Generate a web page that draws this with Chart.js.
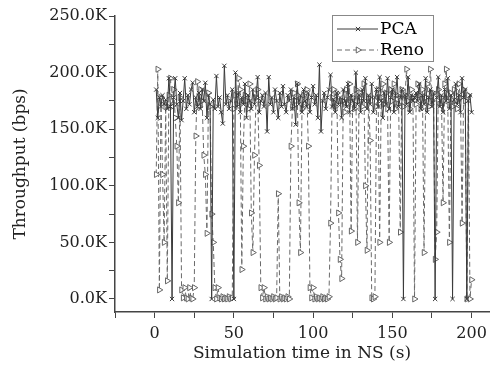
<!DOCTYPE html>
<html>
<head>
<meta charset="utf-8">
<script src="https://cdn.jsdelivr.net/npm/chart.js@4.4.1/dist/chart.umd.min.js"></script>
<style>
  html, body { margin: 0; padding: 0; background: #fff; }
</style>
</head>
<body>
<canvas id="throughputChart" width="494" height="377"></canvas>
<script>
// simulation time (s)
const timeSec = [
  1,2,3,4,5,6,7,8,9,10,11,12,13,14,15,16,17,18,19,20,
  21,22,23,24,25,26,27,28,29,30,31,32,33,34,35,36,37,38,39,40,
  41,42,43,44,45,46,47,48,49,50,51,52,53,54,55,56,57,58,59,60,
  61,62,63,64,65,66,67,68,69,70,71,72,73,74,75,76,77,78,79,80,
  81,82,83,84,85,86,87,88,89,90,91,92,93,94,95,96,97,98,99,100,
  101,102,103,104,105,106,107,108,109,110,111,112,113,114,115,116,117,118,119,120,
  121,122,123,124,125,126,127,128,129,130,131,132,133,134,135,136,137,138,139,140,
  141,142,143,144,145,146,147,148,149,150,151,152,153,154,155,156,157,158,159,160,
  161,162,163,164,165,166,167,168,169,170,171,172,173,174,175,176,177,178,179,180,
  181,182,183,184,185,186,187,188,189,190,191,192,193,194,195,196,197,198,199,200
];

// throughput in K bps
const pcaValues = [
  185,160,178,170,180,172,176,168,195,170,0,178,195,172,160,182,158,175,195,168,
  180,172,185,191,165,178,170,182,168,185,175,191,160,180,172,0,176,168,197,170,
  178,165,155,206,172,180,168,175,185,0,200,170,182,165,178,172,190,160,180,175,
  168,185,172,178,196,165,175,180,170,182,148,196,172,178,165,185,175,160,182,170,
  188,172,165,180,175,185,168,178,154,190,172,180,165,185,175,170,182,165,178,188,
  172,180,160,207,148,175,182,168,178,185,198,170,176,165,182,172,178,160,185,175,
  170,190,165,180,175,168,200,172,180,165,185,175,195,168,180,172,190,165,178,185,
  170,196,175,160,182,172,195,168,178,185,165,180,196,170,178,185,0,180,172,196,
  165,180,175,178,182,175,190,168,180,172,195,165,178,185,170,182,0,178,196,170,
  180,165,185,175,195,168,180,0,176,190,172,180,165,195,178,185,0,175,180,165
];

const renoValues = [
  110,203,8,178,110,50,170,16,180,195,170,185,160,135,85,178,8,1,10,1,
  0,10,1,0,10,144,192,170,185,175,127,110,58,182,170,75,50,10,0,10,
  1,0,2,0,1,0,2,0,1,168,180,172,195,185,26,135,180,175,168,190,
  76,41,127,178,185,118,10,1,10,0,2,0,1,0,2,0,1,93,0,2,
  0,1,0,2,0,135,170,182,175,190,85,41,168,180,172,185,135,10,1,10,
  0,2,0,1,0,2,0,1,0,2,67,178,185,170,182,76,35,18,175,165,
  185,172,190,60,178,168,185,50,175,182,170,190,100,43,178,140,1,0,2,170,
  185,50,178,190,172,182,168,50,185,175,190,168,180,172,59,185,170,180,203,175,
  168,185,178,0,172,190,180,168,185,41,178,190,170,203,175,182,35,59,185,172,
  178,85,190,203,175,50,182,170,185,175,168,190,178,67,185,175,0,180,0,17
];

const seriesNames = ["PCA", "Reno"];
const xTickLabels = [0, 50, 100, 150, 200];
const yTickLabels = [0, 50, 100, 150, 200, 250];

const serif = "'DejaVu Serif', 'Liberation Serif', serif";
const axisColor = "#444";

// legend drawn as line samples with markers, like the original plot
const sampleLegend = {
  id: "sampleLegend",
  afterDraw(chart) {
    const ctx = chart.ctx;
    const box = { x: 332, y: 15, w: 101, h: 46 };
    ctx.save();
    ctx.fillStyle = "#fff";
    ctx.fillRect(box.x, box.y, box.w, box.h);
    ctx.strokeStyle = "#888";
    ctx.lineWidth = 1;
    ctx.strokeRect(box.x + 0.5, box.y + 0.5, box.w, box.h);
    chart.data.datasets.forEach((ds, i) => {
      const y = box.y + 14 + i * 21;
      ctx.strokeStyle = ds.borderColor;
      ctx.lineWidth = 1;
      ctx.setLineDash(ds.borderDash || []);
      ctx.beginPath();
      ctx.moveTo(box.x + 5, y);
      ctx.lineTo(box.x + 46, y);
      ctx.stroke();
      ctx.setLineDash([]);
      ctx.fillStyle = "#fff";
      ctx.strokeStyle = ds.pointBorderColor;
      Chart.helpers.drawPoint(ctx, {
        pointStyle: ds.pointStyle,
        rotation: ds.pointRotation || 0,
        radius: ds.pointRadius,
        borderWidth: 1,
      }, box.x + 26, y);
      ctx.fillStyle = "#000";
      ctx.font = "17px " + serif;
      ctx.textBaseline = "middle";
      ctx.fillText(ds.label, box.x + 48, y + 1);
    });
    ctx.restore();
  },
};

new Chart(document.getElementById("throughputChart"), {
  type: "line",
  data: {
    labels: timeSec,
    datasets: [
      {
        label: seriesNames[0],
        data: pcaValues,
        borderColor: "#3a3a3a",
        backgroundColor: "#fff",
        borderWidth: 1,
        pointStyle: "crossRot",
        pointRadius: 3,
        pointBorderColor: "#3a3a3a",
        pointBorderWidth: 1,
        tension: 0,
      },
      {
        label: seriesNames[1],
        data: renoValues,
        borderColor: "#6a6a6a",
        backgroundColor: "#fff",
        borderWidth: 1,
        borderDash: [5, 3],
        pointStyle: "triangle",
        pointRotation: 90,
        pointRadius: 3.5,
        pointBorderColor: "#666",
        pointBackgroundColor: "#fff",
        pointBorderWidth: 1,
        tension: 0,
      },
    ],
  },
  options: {
    responsive: false,
    animation: false,
    layout: { padding: { top: 16, right: 1, left: 0, bottom: 0 } },
    plugins: {
      legend: { display: false },
      tooltip: { enabled: false },
    },
    scales: {
      x: {
        type: "linear",
        min: -25,
        max: 211,
        grid: {
          drawOnChartArea: false,
          drawTicks: true,
          tickLength: 6,
          tickColor: axisColor,
        },
        border: { color: axisColor, width: 1.5 },
        ticks: {
          stepSize: 25,
          includeBounds: false,
          maxRotation: 0,
          autoSkip: false,
          padding: 6,
          color: "#222",
          font: { family: serif, size: 16 },
          callback: (v) => (xTickLabels.includes(v) ? String(v) : ""),
        },
        title: {
          display: true,
          text: "Simulation time in NS (s)",
          color: "#222",
          font: { family: serif, size: 17 },
          padding: { top: 0, bottom: 13 },
        },
        afterFit: (scale) => { scale.height = 65; },
      },
      y: {
        min: -11.5,
        max: 250,
        grid: {
          drawOnChartArea: false,
          drawTicks: true,
          tickLength: 6,
          tickColor: axisColor,
        },
        border: { color: axisColor, width: 1.5 },
        ticks: {
          stepSize: 25,
          includeBounds: false,
          autoSkip: false,
          padding: 2,
          color: "#222",
          font: { family: serif, size: 16 },
          callback: (v) => (yTickLabels.includes(v) ? v.toFixed(1) + "K" : ""),
        },
        title: {
          display: true,
          text: "Throughput (bps)",
          color: "#222",
          font: { family: serif, size: 17 },
          padding: { top: 10, bottom: 0 },
        },
        afterFit: (scale) => { scale.width = 115; },
      },
    },
  },
  plugins: [sampleLegend],
});
</script>
</body>
</html>
